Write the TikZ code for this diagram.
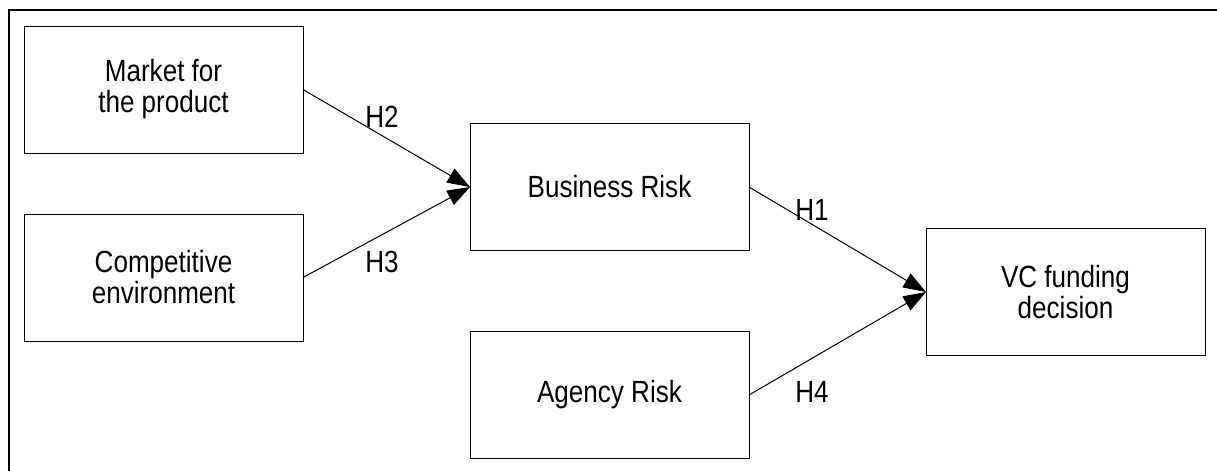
\documentclass[tikz,border=0pt]{standalone}
\usepackage{fontspec}
\setmainfont[FakeStretch=0.85]{Liberation Sans}
\usetikzlibrary{arrows.meta}
\begin{document}
\begin{tikzpicture}[x=0.75pt,y=-0.75pt,
  riskbox/.style={draw,line width=0.75pt,minimum width=209.25pt,minimum height=95.25pt,
    inner sep=0pt,outer sep=0pt,align=center,font=\fontsize{23}{23.25}\selectfont},
  hyp/.style={font=\fontsize{23}{23.25}\selectfont,inner sep=0pt},
  link/.style={line width=0.75pt,-{Triangle[length=17pt,width=12pt]}}]
\useasboundingbox (0,0) rectangle (1217,471);
\draw[line width=1.5pt] (9,480)--(9,10)--(1230,10);

\node[riskbox] (market) at (163.5,89.5) {Market for\\the product};
\node[riskbox] (compet) at (163.5,277.5) {Competitive\\environment};
\node[riskbox] (brisk) at (609.5,187) {Business Risk};
\node[riskbox] (agency) at (609.5,395) {Agency Risk};
\node[riskbox] (vc) at (1065.5,292) {VC funding\\decision};

\draw[link] (market.east) -- (brisk.west);
\draw[link] (compet.east) -- (brisk.west);
\draw[link] (brisk.east) -- (vc.west);
\draw[link] (agency.east) -- (vc.west);

\node[hyp] (h2) at (382,117) {H2};
\node[hyp] (h3) at (382,262) {H3};
\node[hyp] (h1) at (812,210) {H1};
\node[hyp] (h4) at (812,392) {H4};
\end{tikzpicture}
\end{document}
